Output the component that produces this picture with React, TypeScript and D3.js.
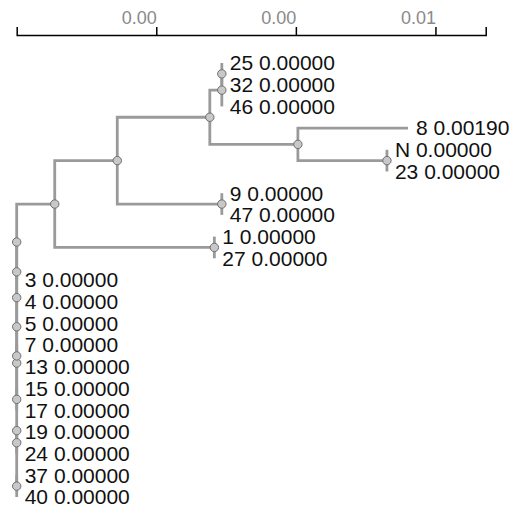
import React, { useEffect, useRef } from "react";
import * as d3 from "d3";

// Tree edges: node id, parent id, branch length (substitutions/site)
const nodeIds = ["root","T","n4","n3","n2","n1","I","G","C","B","A","25","32","46","D","8","E","N","23","F","9","47","H","1","27","3","4","5","P713","7","13","P1517","15","17","P1924","19","24","P3740","37","40"];
const parentIds = ["","root","T","n4","n3","n2","n1","I","G","C","B","A","A","B","C","D","D","E","E","G","F","F","I","H","H","n1","n2","n3","n4","P713","P713","T","P1517","P1517","root","P1924","P1924","root","P3740","P3740"];
const branchLengths = [0,0,0,0,0,0,0.000545,0.000896,0.001326,0.000172,0,0,0,0,0.001262,0.001577,0.001276,0,0,0.001498,0,0,0.002287,0,0,0,0,0,0,0,0,0,0,0,0,0,0,0,0,0];

// Leaf annotation values
const leafNames = ["25","32","46","8","N","23","9","47","1","27","3","4","5","7","13","15","17","19","24","37","40"];
const leafValues = [0,0,0,0.0019,0,0,0,0,0,0,0,0,0,0,0,0,0,0,0,0,0];

// Scale bar
const scaleMax = 0.00672;
const tickValues = [0.002, 0.004, 0.006];

const W = 513, H = 508;

export default function App() {
  const axisRef = useRef<SVGGElement>(null);

  const rows = nodeIds.map((id, i) => ({ id, parent: parentIds[i], len: branchLengths[i] }));
  const root = d3.stratify<any>().id((d: any) => d.id).parentId((d: any) => (d.parent === "" ? null : d.parent))(rows);

  const x = d3.scaleLinear().domain([0, scaleMax]).range([16.7, 485.7]);
  const yLeaf = d3.scaleLinear().domain([0, leafNames.length - 1]).range([63, 497]);

  const depth = new Map<any, number>();
  root.eachBefore((n: any) => {
    depth.set(n, (n.parent ? depth.get(n.parent)! : 0) + n.data.len);
  });
  const ypos = new Map<any, number>();
  const leaves = root.leaves();
  leaves.forEach((l: any) => {
    const idx = leafNames.indexOf(l.data.id);
    ypos.set(l, yLeaf(idx));
  });
  root.eachAfter((n: any) => {
    if (n.children) ypos.set(n, d3.mean(n.children, (c: any) => ypos.get(c))!);
  });

  const px = (n: any) => x(depth.get(n)!);
  const py = (n: any) => ypos.get(n)!;

  useEffect(() => {
    if (!axisRef.current) return;
    const g = d3.select(axisRef.current);
    g.selectAll("*").remove();
    g.call(
      d3.axisTop(x)
        .tickValues(tickValues)
        .tickFormat(d3.format(".2f"))
        .tickSizeInner(8)
        .tickSizeOuter(8)
        .tickPadding(3) as any
    );
    g.attr("font-family", "Liberation Sans, Arial, sans-serif");
    g.select(".domain").attr("stroke-width", 1.5);
    g.selectAll(".tick line").attr("stroke-width", 1.5);
    g.selectAll(".tick text")
      .attr("text-anchor", "end")
      .attr("fill", "#8a8a8a")
      .attr("font-size", 18);
  }, []);

  const links = root.links();
  const internals = root.descendants().filter((n: any) => n.children);

  return (
    <svg width={W} height={H} style={{ position: "absolute", left: 0, top: 0, background: "#fff" }}>
      <g ref={axisRef} transform="translate(0,35)" />
      <g fill="none" stroke="#9a9a9a" strokeWidth={2.8}>
        {links.map((l: any, i: number) => (
          <path key={i} d={`M${px(l.source)},${py(l.source)}V${py(l.target)}H${px(l.target)}`} />
        ))}
      </g>
      <g>
        {internals.map((n: any, i: number) => (
          <circle key={i} cx={px(n)} cy={py(n)} r={4.2} fill="#c8c8c8" stroke="#6e6e6e" strokeWidth={1} />
        ))}
      </g>
      <g fontFamily="Liberation Sans, Arial, sans-serif" fontSize={21} fill="#111">
        {leaves.map((l: any, i: number) => {
          const idx = leafNames.indexOf(l.data.id);
          return (
            <text key={i} x={px(l) + 8} y={py(l)} dy="0.35em">
              {`${l.data.id} ${leafValues[idx].toFixed(5)}`}
            </text>
          );
        })}
      </g>
    </svg>
  );
}
